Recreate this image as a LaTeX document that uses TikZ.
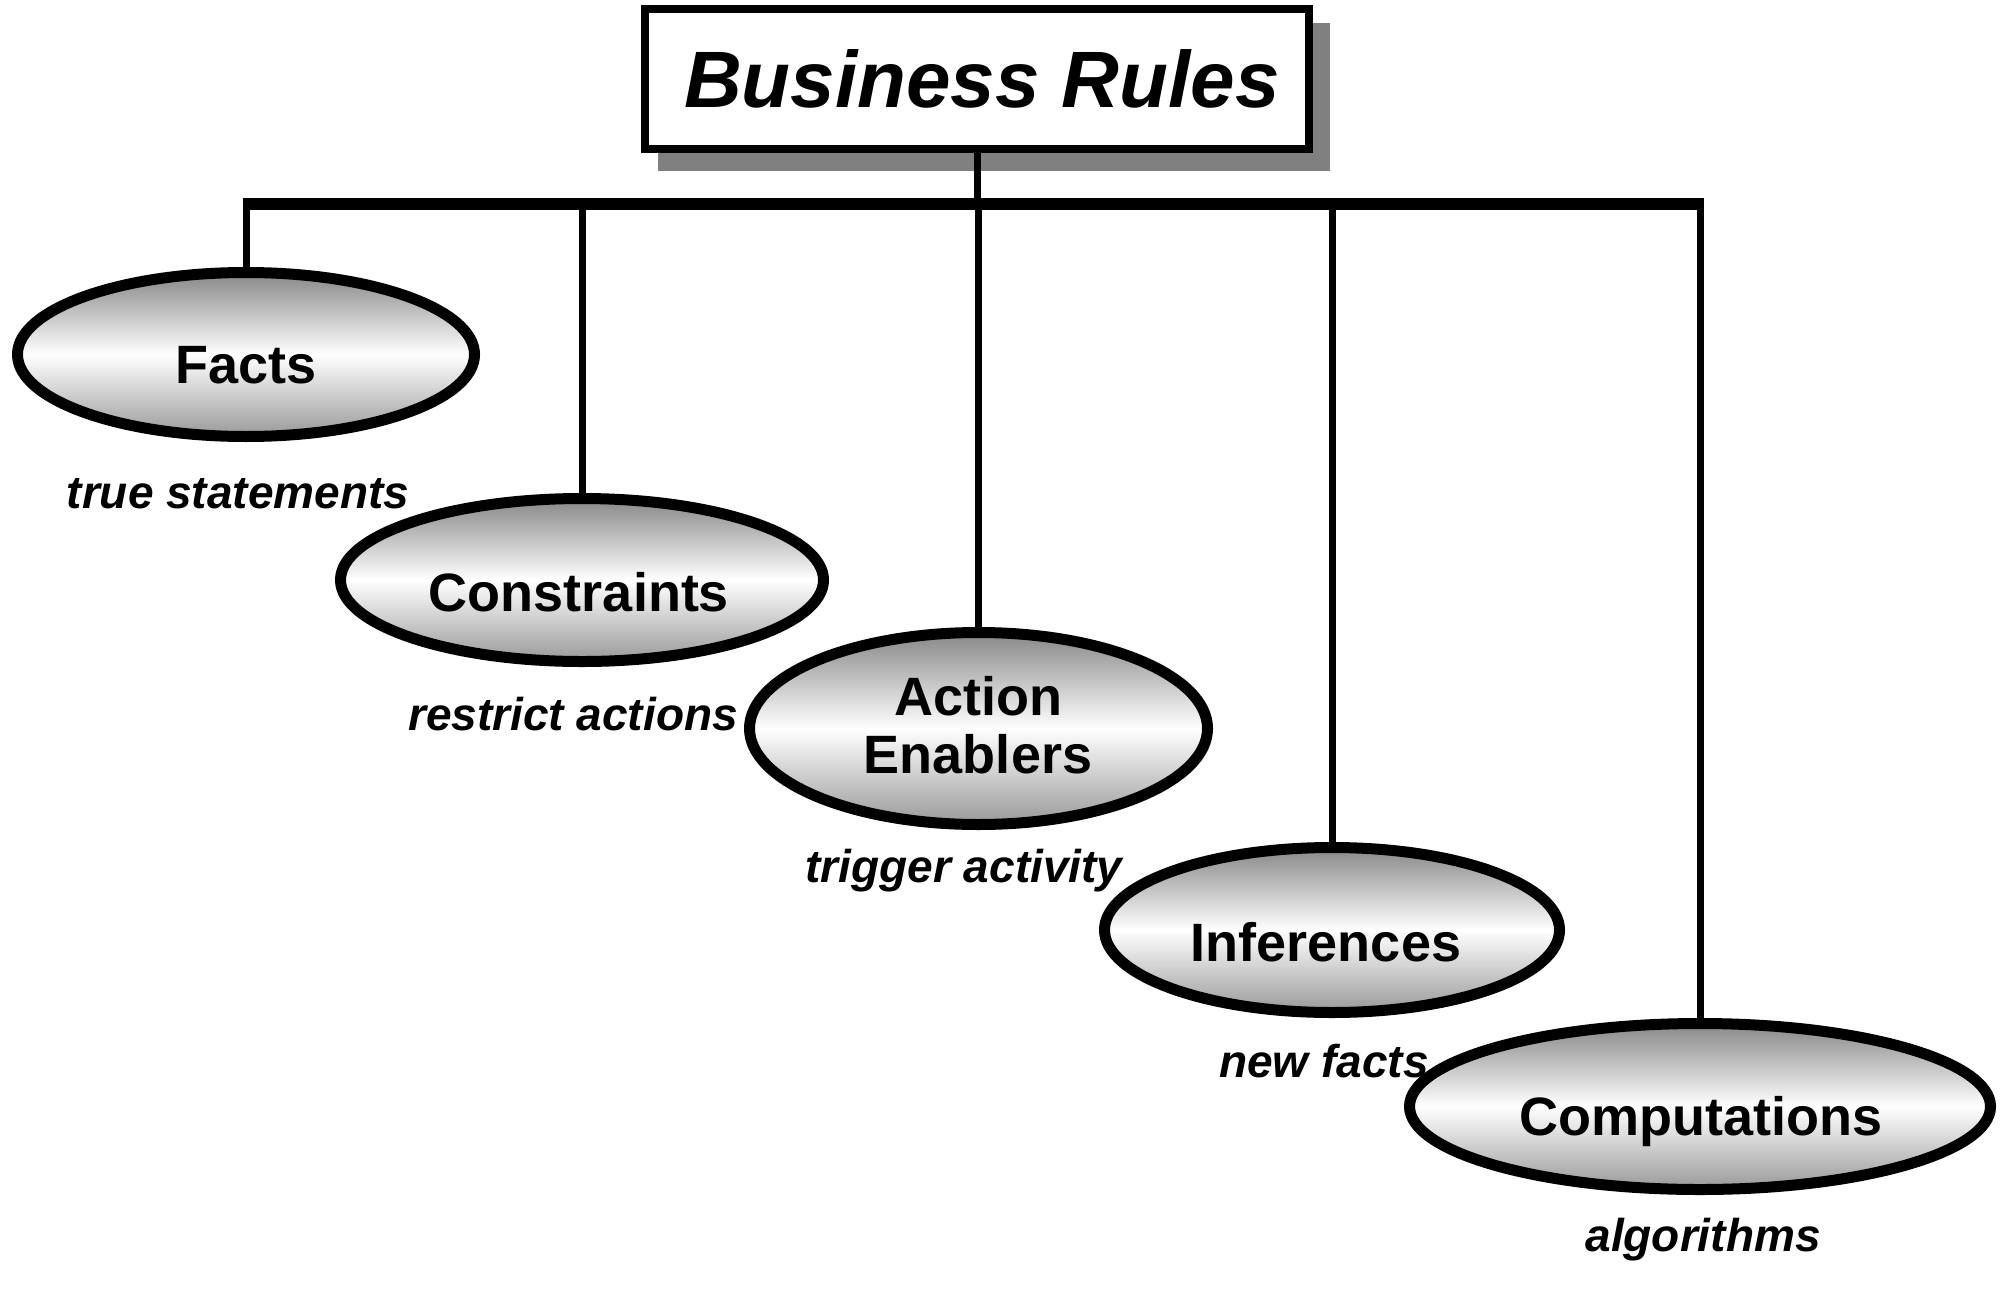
\documentclass[tikz,border=0pt]{standalone}
\usepackage{fontspec}
\setmainfont{Liberation Sans}
\usetikzlibrary{shapes.geometric,backgrounds}
\begin{document}
\begin{tikzpicture}[x=1pt,y=-1pt,
  titlebox/.style={rectangle, draw, line width=7.5pt, fill=white, inner sep=0pt,
    minimum width=664pt, minimum height=140pt,
    font=\fontsize{80}{90}\selectfont\bfseries\itshape},
  ell/.style={ellipse, draw, line width=11pt, inner sep=0pt,
    top color=black!47, bottom color=black!40, middle color=white},
  etext/.style={font=\fontsize{54}{58}\selectfont\bfseries, anchor=base, inner sep=0pt},
  lbl/.style={font=\fontsize{46}{50}\selectfont\bfseries\itshape, anchor=base, inner sep=0pt},
  conn/.style={line width=7pt},
  barline/.style={line width=12pt}]
\useasboundingbox (0,0) rectangle (2012,1290);
\coordinate (barref) at (0,204);

\node[titlebox] (title) at (977,79) {\hspace*{10pt}Business Rules};

\node[ell, minimum width=457pt, minimum height=164pt] (facts) at (246,354.5) {};
\node[ell, minimum width=483pt, minimum height=163pt] (cons) at (582,580) {};
\node[ell, minimum width=458pt, minimum height=192pt] (act) at (978.5,728.5) {};
\node[ell, minimum width=455pt, minimum height=165pt] (inf) at (1332,930) {};
\node[ell, minimum width=581pt, minimum height=166pt] (comp) at (1700,1106.5) {};

\node[etext] (factsT) at (246,383) {Facts};
\node[etext] (consT) at (579,611) {Constraints};
\node[etext, anchor=center, align=center] (actT) at (978,725) {Action\\Enablers};
\node[etext] (infT) at (1326,961) {Inferences};
\node[etext] (compT) at (1701,1135) {Computations};

\node[lbl] (factsL) at (238,508) {true statements};
\node[lbl] (consL) at (573,730) {restrict actions};
\node[lbl] (actL) at (964,882) {trigger activity};
\node[lbl] (infL) at (1324,1077) {new facts};
\node[lbl] (compL) at (1703,1251) {algorithms};

\coordinate (j) at (title.south |- barref);
\draw[conn] (title.south) -- (j);
\draw[barline] ([xshift=-3.5pt]facts.north |- barref) -- ([xshift=3.5pt]comp.north |- barref);
\foreach \n in {facts,cons,act,inf,comp}
  \draw[conn] (\n.north |- barref) -- (\n.north);

\begin{scope}[on background layer]
  \fill[white] (0,0) rectangle (2012,1290);
  \fill[gray] ([shift={(17,18)}]title.north west) rectangle ([shift={(17,18)}]title.south east);
\end{scope}
\end{tikzpicture}
\end{document}
